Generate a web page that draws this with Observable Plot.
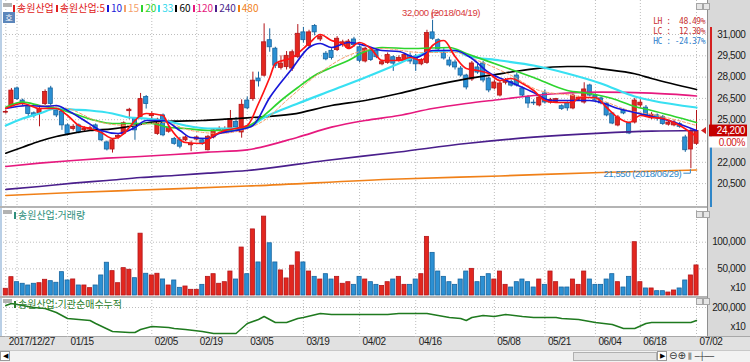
<!DOCTYPE html>
<html><head><meta charset="utf-8">
<script src="https://cdn.jsdelivr.net/npm/d3@7"></script>
<script src="https://cdn.jsdelivr.net/npm/@observablehq/plot@0.6"></script>
<style>
html,body{margin:0;padding:0;background:#fff;}
#root{position:relative;width:750px;height:362px;overflow:hidden;background:#fff;font-family:"Liberation Sans",Arial,sans-serif;}
.kr{font-family:"Noto Sans CJK KR","Noto Sans",sans-serif;}
</style></head>
<body><div id="root"></div>
<script>
// ---------- DATA ----------
// daily candles [open, high, low, close], trading-day index 0 = 2017/12/27
const candles = [
[25500,25650,25400,25550],[26000,27200,25900,27050],[27200,27300,26350,26450],[26350,26450,25950,26100],
[25900,26000,25200,25400],[25450,25550,25100,25250],[25400,25850,24500,25750],[26100,27100,26000,26950],
[27200,27350,26000,26100],[25650,25800,25150,25300],[25550,25600,24250,24600],[24600,24700,23900,24000],
[24350,24650,24200,24500],[24600,24700,24000,24100],[24250,24500,24150,24350],[24300,24550,24200,24400],
[24600,24700,24150,24250],[24100,24200,23450,23550],[23400,23500,22800,22900],[22900,23650,22650,23550],
[23750,24000,23600,23850],[24000,24850,23900,24750],[25600,25800,25000,25700],[25050,25150,23550,24250],
[25200,26850,25100,26450],[26600,26700,25750,26100],[25250,25550,24950,25400],[24000,25100,23900,25000],
[25300,25400,23800,23900],[24150,24550,24050,24450],[23650,23750,23200,23300],[23550,23750,22950,23100],
[23550,23850,23450,23750],[23200,23500,22750,23300],[23600,23850,23500,23750],[23550,23650,23200,23300],
[22850,23900,22800,23800],[23750,24350,23650,24250],[24250,24500,24150,24350],[24100,24500,24000,24350],
[24250,25650,24150,25050],[24850,25150,24300,24450],[24100,26400,23700,26050],[26350,26600,25700,25800],
[26450,28350,26300,27750],[27900,28350,27300,27700],[28100,31750,28000,30450],[30600,31400,29750,30100],
[30000,30100,28600,28800],[28650,29500,28500,28950],[28700,29800,28500,29500],[28600,29900,28400,29750],
[29400,31700,29300,31050],[31150,31500,30400,30600],[30200,31300,30100,31150],[31600,31700,30900,31150],
[30650,31000,30500,30850],[29650,29800,29150,29250],[29850,30000,29200,29350],[29900,30850,29800,30700],
[30250,30600,30100,30450],[30050,30650,29950,30500],[30650,30800,30100,30250],[30100,30200,29000,29150],
[29100,30100,29000,30000],[29850,30000,29100,29200],[29850,29900,29300,29400],[28900,29200,28800,29050],
[29000,29700,28900,29550],[29400,29500,28400,28950],[29150,29500,29050,29350],[29150,29650,29050,29550],
[29500,29700,28900,29100],[29450,29600,28400,28900],[28900,29300,28800,29200],[29000,31300,28900,31100],
[31150,32000,30600,30700],[30600,30700,29800,29950],[29730,30000,29200,29310],[29170,29400,28700,28820],
[29030,29200,28500,28680],[28600,28750,28000,28110],[28110,28200,27100,27270],[27830,29100,27700,28960],
[28680,28900,28200,28320],[28960,29100,27600,27760],[27900,28000,26900,27060],[27200,27800,27100,27620],
[26700,27700,26600,27550],[27600,27900,27450,27750],[27650,27800,27300,27400],[28110,28300,27300,27410],
[27200,27300,26600,26700],[26560,26700,25800,26140],[26200,26400,26000,26150],[26000,26600,25900,26560],
[26850,27100,26100,26210],[26200,26500,26100,26400],[26250,26500,26150,26450],[25950,26050,25650,25750],
[26150,26250,25600,25800],[25790,26800,25700,26700],[26400,26650,26300,26550],[26210,27600,26100,27130],
[27410,27500,26600,26700],[26700,26800,26300,26350],[26500,26600,26050,26150],[26140,26200,25200,25300],
[25440,25500,24650,24730],[24590,25300,24500,25160],[25650,25750,25350,25440],[24730,24850,23950,24030],
[24800,26500,24700,26350],[26000,26400,25800,26200],[25850,26000,25200,25300],[25100,25500,25000,25350],
[25300,25400,24900,25100],[25200,25300,24600,24700],[24650,24950,24550,24800],[24600,24950,24500,24800],
[24700,24800,24400,24500],[23750,23900,22700,22850],[22900,24300,21550,24200],[23300,25650,23200,24200]
];
// volume (chart units, x10)
const volumes = [
12600,34400,25000,22000,18800,22000,23100,29500,26900,23900,43800,28200,30100,18800,18800,13800,18800,37600,61500,45700,
23100,51300,48300,32500,116000,40800,37600,40800,30100,18800,28200,14400,16900,10700,10700,20000,35000,40000,22000,25000,
45000,30000,90000,40000,124000,62000,148000,98000,62000,47000,32000,56000,81000,62000,45000,35000,30000,40000,30000,35000,
22000,25000,20000,35000,30000,25000,20000,18000,25000,30000,35000,20000,20000,30000,40000,110000,80000,45000,35000,25000,
20000,30000,45000,50000,25000,35000,40000,30000,45000,20000,15000,25000,30000,25000,15000,30000,20000,45000,25000,15000,
15000,30000,20000,45000,30000,20000,20000,30000,40000,25000,15000,35000,100000,25000,13200,13200,8100,8100,5600,9400,
13200,28200,37600,56400
];
// moving averages: [trading-day index, price]
const ma5 = [[0,25789],[3,26141],[6,25789],[9,25789],[11,25296],[13,24592],[15,24381],[17,24099],[19,23677],[20,23747],[22,24451],[23,24944],[25,25437],[28,25296],[29,24592],[32,23395],[35,23324],[37,23888],[39,24240],[41,24381],[43,24592],[45,26141],[47,27972],[48,28958],[51,29380],[54,30366],[56,31000],[58,30577],[60,30366],[61,30014],[63,30437],[65,30014],[67,29169],[70,29169],[72,29380],[74,29169],[76,30225],[78,30577],[80,29450],[82,28606],[84,28465],[86,28254],[88,27761],[90,27902],[92,27550],[94,27056],[96,26352],[98,26211],[101,26211],[102,26563],[105,26563],[107,25859],[109,25155],[111,24803],[113,25296],[115,25155],[117,25085],[120,24592],[123,23817]];
const ma10 = [[0,25789],[4,26000],[7,25930],[9,26000],[11,25648],[14,24944],[17,24240],[20,24029],[23,24451],[25,24944],[28,24944],[31,24240],[33,23747],[36,23677],[38,24029],[41,24240],[44,24592],[47,26563],[51,28606],[54,30085],[56,30366],[58,30085],[61,30437],[64,30225],[67,29873],[70,29803],[73,29380],[76,29873],[80,29873],[83,29310],[86,28324],[90,27620],[94,26916],[97,26352],[104,26352],[106,26211],[109,25789],[112,25507],[115,25226],[118,24944],[123,24240]];
const ma15 = [[0,25859],[6,26000],[11,25789],[17,24803],[22,24592],[28,24803],[33,24240],[38,24029],[43,24381],[46,24944],[50,26352],[56,28324],[61,29521],[67,30014],[74,29732],[80,29732],[84,29169],[90,28113],[95,27056],[101,26704],[106,26352],[111,25648],[116,25296],[123,24592]];
const ma20 = [[0,25880],[3,26233],[6,26000],[9,25789],[12,25437],[16,24944],[19,24733],[23,24733],[26,24733],[29,24451],[32,24381],[36,24240],[40,24240],[43,24522],[46,25296],[49,26352],[52,27268],[55,28113],[58,28676],[61,29169],[64,29803],[67,30085],[72,30014],[79,30085],[82,29662],[88,28817],[94,27972],[100,27056],[104,26845],[108,26493],[112,25930],[115,25648],[123,24803]];
const ma33 = [[0,24592],[3,25085],[6,25437],[9,25789],[12,25718],[15,25648],[19,25437],[22,25155],[25,25085],[29,24873],[32,24592],[36,24381],[40,24381],[43,24451],[46,25155],[52,26141],[58,27056],[64,27972],[70,28958],[72,29310],[76,29803],[80,29873],[82,29521],[88,29169],[94,28817],[100,28254],[106,27550],[112,26634],[115,26352],[123,25860]];
const ma60 = [[0,22641],[3,23064],[6,23486],[9,23817],[12,24050],[15,24240],[19,24360],[23,24592],[26,24824],[30,24895],[35,24944],[39,25036],[43,25134],[51,25388],[58,26000],[64,26352],[70,26845],[76,27409],[82,27880],[88,28233],[94,28585],[100,28747],[103,28747],[106,28585],[112,28233],[115,27902],[123,27127]];
const ma120 = [[0,21705],[6,21937],[12,22127],[18,22289],[24,22409],[30,22550],[36,22712],[43,22881],[52,23768],[58,24472],[64,24944],[70,25296],[76,25789],[82,26141],[88,26423],[94,26704],[100,26880],[106,26937],[115,26866],[123,26669]];
const ma240 = [[0,20085],[6,20296],[12,20530],[18,20719],[24,20930],[30,21071],[36,21233],[43,21423],[57,22127],[70,22726],[82,23324],[94,23768],[106,24050],[115,24190],[123,24240]];
const ma480 = [[0,19662],[12,19873],[24,20050],[43,20330],[70,20824],[88,21036],[106,21282],[123,21458]];
// institutional net-buying cumulative (chart units, x10)
const inst = [[0,207700],[1,215400],[3,207700],[5,200000],[7,196200],[9,180800],[11,157700],[15,150000],[16,138500],[19,107700],[22,103800],[23,103800],[24,115400],[26,126900],[29,123100],[30,119200],[32,115400],[35,107700],[37,100000],[41,100000],[43,138500],[45,153800],[46,165400],[48,142300],[50,142300],[52,157700],[53,161500],[56,176900],[58,173100],[60,173100],[63,173100],[65,173100],[68,173100],[70,176900],[73,176900],[75,176900],[77,169200],[79,161500],[81,157700],[82,150000],[83,161500],[85,169200],[87,165400],[89,173100],[92,165400],[94,161500],[98,161500],[99,157700],[102,153800],[105,142300],[108,134600],[110,119200],[112,119200],[114,138500],[115,142300],[118,142300],[122,142300],[123,150000]];
// axis ticks
const gridIdx = [0,2,11,26,34,43,53,63,73,87,96,105,113,123];
const dateTicks = [[0,"2017/12/27"],[11,"01/15"],[26,"02/05"],[34,"02/19"],[43,"03/05"],[53,"03/19"],[63,"04/02"],[73,"04/16"],[87,"05/08"],[96,"05/21"],[105,"06/04"],[113,"06/18"],[123,"07/02"]];
const priceGrid = [31000,29500,28000,26500,25000,23500,22000,20500];
const priceLabels = [31000,29500,28000,26500,25000,22000,20500];
const volTicks = [50000,100000];
const instTicks = [200000];
const hiDate = "2018/04/19", loDate = "2018/06/29";
const rangeTop = 31500;
const statsText = ["LH :  48.49%","LC :  12.30%","HC : -24.37%"];
const legendItems = [
  {label:"송원산업", color:"#e02020"},{label:"송원산업:5", color:"#e02020"},{label:"10", color:"#1818d8"},
  {label:"15", color:"#f5a06a"},{label:"20", color:"#2ed42e"},{label:"33", color:"#30d8ec"},
  {label:"60", color:"#000000"},{label:"120", color:"#e6197e"},{label:"240", color:"#4a1f8c"},{label:"480", color:"#f08018"}
];

// ---------- BUILD ----------
const RED = "#e2271f", RED_D = "#b3151a", BLUE = "#2c90d3", BLUE_D = "#17659f";
const fmt = d3.format(",");
const data = candles.map((c, i) => ({i, o: c[0], h: c[1], l: c[2], c: c[3], v: volumes[i], up: c[3] >= c[0]}));
const pt = a => a.map(([i, v]) => ({i, v}));
const X = {domain: [0, 123], range: [5.3, 696], axis: null};
const dotted = {stroke: "#bdbdbd", strokeDasharray: "1,2", strokeWidth: 1};
const svgStyle = {background: "transparent", fontFamily: "'Liberation Sans', Arial, sans-serif", fontSize: "10px", letterSpacing: "-0.4px", overflow: "visible"};
const maSpecs = [
  {d: ma480, c: "#f08018", w: 1.7}, {d: ma240, c: "#4a1f8c", w: 1.7}, {d: ma120, c: "#e6197e", w: 1.7},
  {d: ma60, c: "#000000", w: 1.7}, {d: ma33, c: "#38e0f2", w: 2.2}, {d: ma20, c: "#2ed42e", w: 1.7},
  {d: ma15, c: "#f5a06a", w: 1, dash: "3,2"}, {d: ma10, c: "#1818d8", w: 1.7}, {d: ma5, c: "#ff1414", w: 1.7}
];
const hi = d3.greatest(data, d => d.h), lo = d3.least(data, d => d.l);
const last = data[data.length - 1], prev = data[data.length - 2];
const HW = 0.37;

const priceDeco = (index, scales) => {
  const x = scales.x, y = scales.y;
  const g = d3.create("svg:g");
  const hx = x(hi.i), hy = y(hi.h);
  g.append("path").attr("d", `M${hx},${hy - 1}V${hy - 7}H${hx + 7}`).attr("fill", "none").attr("stroke", "#d83a3a");
  g.append("text").attr("x", hx + 9).attr("y", hy - 7).attr("dy", "0.35em").attr("fill", "#d83a3a").attr("font-size", 9.5).text(`${fmt(hi.h)} (${hiDate})`);
  const lx = x(lo.i), ly = y(lo.l);
  g.append("path").attr("d", `M${lx},${ly + 1}V${ly + 5}H${lx - 7}`).attr("fill", "none").attr("stroke", "#2f86c8");
  g.append("text").attr("x", lx - 9).attr("y", ly + 5).attr("dy", "0.35em").attr("text-anchor", "end").attr("fill", "#2f86c8").attr("font-size", 9.5).text(`${fmt(lo.l)} (${loDate})`);
  const cy = y(last.c);
  g.append("line").attr("x1", 711).attr("x2", 711).attr("y1", y(rangeTop)).attr("y2", cy).attr("stroke", "#d42020").attr("stroke-width", 2);
  g.append("line").attr("x1", 711).attr("x2", 711).attr("y1", cy).attr("y2", 207).attr("stroke", "#2f86c8").attr("stroke-width", 2);
  g.append("path").attr("d", `M701,${cy}L706,${cy - 3.5}L706,${cy + 3.5}Z`).attr("fill", "#d02020");
  g.append("rect").attr("x", 709).attr("y", cy - 6).attr("width", 38).attr("height", 12).attr("fill", "#c40000");
  g.append("text").attr("x", 745).attr("y", cy).attr("dy", "0.35em").attr("text-anchor", "end").attr("fill", "#fff").text(fmt(last.c));
  g.append("rect").attr("x", 709).attr("y", cy + 6).attr("width", 38).attr("height", 11).attr("fill", "#fff");
  g.append("text").attr("x", 745).attr("y", cy + 11.5).attr("dy", "0.35em").attr("text-anchor", "end").attr("fill", "#d42020").text(d3.format(".2f")(100 * (last.c - prev.c) / prev.c) + "%");
  return g.node();
};

const pricePlot = Plot.plot({
  width: 750, height: 207, marginLeft: 3, marginRight: 43, marginTop: 0, marginBottom: 0,
  style: svgStyle, x: X, y: {domain: [20500, 31000], range: [183.1, 34], axis: null},
  marks: [
    Plot.ruleY(priceGrid, dotted),
    Plot.ruleX(gridIdx, dotted),
    Plot.ruleX(data, {x: "i", y1: "l", y2: "h", stroke: d => d.up ? RED_D : BLUE_D, strokeWidth: 1}),
    Plot.rect(data, {x1: d => d.i - HW, x2: d => d.i + HW, y1: "o", y2: "c", fill: d => d.up ? RED : BLUE, stroke: d => d.up ? RED_D : BLUE_D, strokeWidth: 0.8}),
    ...maSpecs.map(s => Plot.line(pt(s.d), {x: "i", y: "v", stroke: s.c, strokeWidth: s.w, strokeDasharray: s.dash, curve: "monotone-x"})),
    Plot.text(priceLabels, {y: d => d, text: d => fmt(d), frameAnchor: "right", dx: 38, textAnchor: "end", fill: "#1a1a1a"}),
    priceDeco
  ]
});

const volPlot = Plot.plot({
  width: 750, height: 90, marginLeft: 3, marginRight: 43, marginTop: 0, marginBottom: 0,
  style: svgStyle, x: X, y: {domain: [0, 100000], range: [88, 34.7], axis: null},
  marks: [
    Plot.ruleY(volTicks, dotted),
    Plot.ruleX(gridIdx, dotted),
    Plot.rect(data, {x1: d => d.i - HW, x2: d => d.i + HW, y1: 0, y2: "v", fill: d => d.up ? RED : BLUE, stroke: d => d.up ? RED_D : BLUE_D, strokeWidth: 0.8}),
    Plot.text(volTicks, {y: d => d, text: d => fmt(d), frameAnchor: "right", dx: 38, textAnchor: "end", fill: "#1a1a1a"}),
    Plot.text(["x10"], {text: d => d, frameAnchor: "bottom-right", dx: 38, dy: -7, textAnchor: "end", fill: "#1a1a1a"})
  ]
});

const instPlot = Plot.plot({
  width: 750, height: 54, marginLeft: 3, marginRight: 43, marginTop: 0, marginBottom: 14,
  style: svgStyle, x: X, y: {domain: [100000, 200000], range: [36, 10], axis: null},
  marks: [
    Plot.ruleY(instTicks, dotted),
    Plot.ruleX(gridIdx, dotted),
    Plot.line(pt(inst), {x: "i", y: "v", stroke: "#1f7a1f", strokeWidth: 1.5}),
    Plot.text(instTicks, {y: d => d, text: d => fmt(d), frameAnchor: "right", dx: 38, textAnchor: "end", fill: "#1a1a1a"}),
    Plot.text(["x10"], {text: d => d, frameAnchor: "bottom-right", dx: 38, dy: -8, textAnchor: "end", fill: "#1a1a1a"}),
    Plot.text(dateTicks, {x: d => d[0], text: d => d[1], frameAnchor: "bottom", dy: 7, dx: 3, textAnchor: "start", fill: "#222"})
  ]
});

// ---------- LAYOUT ----------
const root = d3.select("#root");
function div(css, html) { const d = root.append("div").attr("style", "position:absolute;" + css); if (html != null) d.html(html); return d; }
div("left:707px;top:0;width:43px;height:337px;background:#d9d9d9;border-left:1px solid #8f8f8f;box-sizing:border-box;");
div("left:0;top:0;width:2px;height:337px;background:#b9cfe6;");
div("left:0;top:206px;width:707px;height:2px;background:#b4b4b4;");
div("left:0;top:296px;width:707px;height:2px;background:#b4b4b4;");
div("left:0;top:336px;width:750px;height:14px;background:#e1e1e1;border-top:1px solid #a8a8a8;box-sizing:border-box;");
div("left:0;top:350px;width:750px;height:12px;background:#f2f2f2;border-top:1px solid #c8c8c8;box-sizing:border-box;");
div("left:0;top:351px;width:10px;height:10px;background:#fff;border:1px solid #9a9a9a;box-sizing:border-box;font-size:7px;line-height:8px;text-align:center;", "◀");
div("left:573px;top:352px;width:84px;height:9px;background:#e2e2e2;border:1px solid #b0b0b0;box-sizing:border-box;");
div("left:657px;top:351px;width:10px;height:10px;background:#fff;border:1px solid #9a9a9a;box-sizing:border-box;font-size:7px;line-height:8px;text-align:center;", "▶");
div("left:669px;top:350px;width:81px;height:12px;font-size:10px;line-height:12px;color:#333;white-space:nowrap;font-family:'DejaVu Sans';", "⊖⊕<span style='font-size:8px'> ⫼ ─┼──</span>");

for (const [p, top] of [[pricePlot, 0], [volPlot, 207], [instPlot, 297]]) {
  p.style.position = "absolute"; p.style.left = "0px"; p.style.top = top + "px";
  root.node().appendChild(p);
}

// legend row
const leg = div("left:11px;top:1px;height:14px;white-space:nowrap;font-size:10px;line-height:14px;");
legendItems.forEach(it => {
  leg.append("span").attr("style", `display:inline-block;width:2px;height:7px;background:${it.color};margin:0 2px 0 2px;`);
  leg.append("span").attr("class", "kr").style("color", it.color).text(it.label);
});
// panel icons
div("left:3px;top:3px;width:9px;height:4px;background:#b2b2b2;");
div("left:3px;top:12px;width:12px;height:11px;background:#5b86bb;color:#fff;font-size:8px;line-height:11px;text-align:center;", "<span class='kr'>호</span>");
div("left:3px;top:210px;width:9px;height:4px;background:#b2b2b2;");
div("left:3px;top:299px;width:9px;height:4px;background:#b2b2b2;");
for (const t of [3, 211, 298]) {
  div(`left:696px;top:${t}px;width:5px;height:5px;background:#e6e6e6;border:1px solid #a5a5a5;`);
  div(`left:703px;top:${t}px;width:5px;height:5px;background:#e6e6e6;border:1px solid #a5a5a5;`);
}
const vt = div("left:12px;top:208px;white-space:nowrap;font-size:10px;line-height:14px;");
vt.append("span").attr("style", "display:inline-block;width:2px;height:7px;background:#2f8f7c;margin:0 2px;");
vt.append("span").attr("class", "kr").style("color", "#2f8f7c").text("송원산업:거래량");
const it2 = div("left:12px;top:297px;white-space:nowrap;font-size:10px;line-height:14px;");
it2.append("span").attr("style", "display:inline-block;width:2px;height:7px;background:#2b7d2b;margin:0 2px;");
it2.append("span").attr("class", "kr").style("color", "#2b7d2b").text("송원산업:기관순매수누적");
// LH / LC / HC
const st = div("left:634px;top:17px;width:71px;text-align:right;font-family:'DejaVu Sans Mono',monospace;font-size:8px;line-height:9.8px;letter-spacing:-0.5px;white-space:pre;");
statsText.forEach((s, k) => st.append("div").style("color", k < 2 ? "#c83232" : "#2f80cc").text(s));
</script>
</body></html>
